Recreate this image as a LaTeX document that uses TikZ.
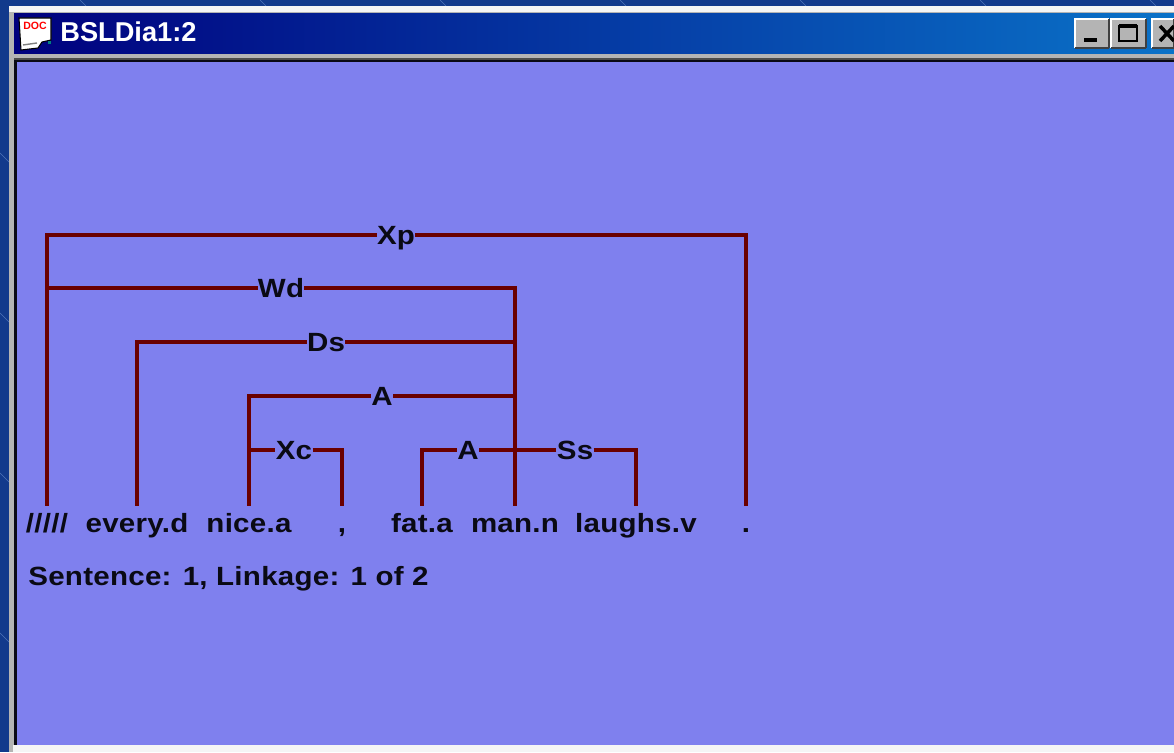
\documentclass[tikz,border=0pt]{standalone}
\usepackage{fontspec}
\setmainfont{Liberation Sans}
\newfontfamily\linkfont[FakeStretch=1.12,LetterSpace=1]{Liberation Sans}
\definecolor{DeskBlue}{HTML}{123A8C}
\definecolor{DeskLine}{HTML}{4F74B8}
\definecolor{FrameGray}{HTML}{B4B4B4}
\definecolor{PanelBlue}{HTML}{7F80EE}
\definecolor{LinkRed}{HTML}{6A0000}
\definecolor{TitleNavy}{HTML}{00007E}
\definecolor{TitleSky}{HTML}{0A72C8}
\definecolor{InkBlack}{HTML}{0A0A14}
\tikzset{
  link/.style={draw=LinkRed,line width=0.09cm},
  linklabel/.style={font=\linkfont\fontsize{15}{16}\bfseries,text=InkBlack,inner sep=0pt,text height=0.40cm,text depth=0cm},
  wordnode/.style={anchor=north,font=\linkfont\fontsize{15}{16}\bfseries,text=InkBlack,inner sep=0pt,text height=0.52cm,text depth=0.12cm},
  winbutton/.style={fill=FrameGray}
}
\begin{document}
\begin{tikzpicture}
\useasboundingbox (0,0) rectangle (23.48,15.04);
\fill[DeskBlue] (0,0) rectangle (23.48,15.04);
\foreach \y in {2.2,5.4,8.6,11.8} {\draw[DeskLine,line width=0.3pt] (0,\y+0.18)--(0.18,\y);}
\foreach \x in {1.6,5.2,8.8,12.4,16,19.6,23.0} {\draw[DeskLine,line width=0.3pt] (\x,15.04)--(\x+0.12,14.92);}
% window frame
\fill[FrameGray] (0.18,0) rectangle (23.48,14.92);
\fill[white!92!gray] (0.18,14.92) rectangle (23.48,14.80);
\fill[white!92!gray] (0.26,0) rectangle (23.48,0.14);
\shade[left color=TitleNavy,right color=TitleSky] (0.28,13.96) rectangle (23.48,14.76);
\fill[black!70] (0.28,13.88) rectangle (23.48,13.84);
\fill[InkBlack] (0.28,0.14) rectangle (0.36,13.84);
\fill[InkBlack] (0.28,13.84) rectangle (23.48,13.80);
\fill[PanelBlue] (0.34,0.14) rectangle (23.48,13.80);
% icon
\filldraw[fill=white,draw=black,line width=0.6pt] (0.38,14.68)--(1.02,14.68)--(1.02,14.24)--(0.84,14.20)--(0.76,14.08)--(0.42,14.04)--cycle;
\draw[gray,line width=0.8pt] (0.46,14.14)--(0.74,14.18);
\fill[teal] (0.96,14.16) rectangle (1.02,14.22);
\node[text=red,font=\fontsize{6}{6}\bfseries,inner sep=0pt] (icondoc) at (0.70,14.53) {DOC};
\node[anchor=base west,text=white,font=\fontsize{15.5}{16}\bfseries,inner sep=0pt] (titletext) at (1.20,14.20) {BSLDia1:2};
% buttons
\foreach \x/\w in {21.50/0.68,22.22/0.70,23.04/0.44} {
  \fill[winbutton] (\x,14.08) rectangle +(\w,0.58);
  \draw[white,line width=0.04cm] (\x,14.08) |- +(\w,0.58);
  \draw[black!75,line width=0.05cm] (\x,14.08) -- +(\w,0);
  \draw[black!75,line width=0.05cm] (\x+\w,14.08) -- +(0,0.58);
}
\fill[black] (21.68,14.20) rectangle (21.94,14.28);
\draw[black,line width=0.05cm] (22.38,14.22) rectangle (22.74,14.52);
\draw[black,line width=0.09cm] (22.38,14.52)--(22.74,14.52);
\draw[black,line width=0.07cm] (23.20,14.52)--(23.48,14.22) (23.20,14.22)--(23.48,14.52);
% words
\node[wordnode] (wslash) at (0.94,4.92) {/////};
\node[wordnode] (wevery) at (2.74,4.92) {every.d};
\node[wordnode] (wnice) at (4.98,4.92) {nice.a};
\node[wordnode] (wcomma) at (6.84,4.92) {,};
\node[wordnode] (wfat) at (8.44,4.92) {fat.a};
\node[wordnode] (wman) at (10.30,4.92) {man.n};
\node[wordnode] (wlaughs) at (12.72,4.92) {laughs.v};
\node[wordnode] (wdot) at (14.92,4.92) {.};
\node[anchor=base west,font=\linkfont\fontsize{15}{16}\bfseries,text=InkBlack,inner sep=0pt] (status) at (0.56,3.32) {Sentence: 1, Linkage: 1 of 2};
% link labels
\node[linklabel] (lXp) at (7.92,10.34) {Xp};
\node[linklabel] (lWd) at (5.62,9.28) {Wd};
\node[linklabel] (lDs) at (6.52,8.20) {Ds};
\node[linklabel] (lAa) at (7.64,7.12) {A};
\node[linklabel] (lXc) at (5.88,6.04) {Xc};
\node[linklabel] (lAb) at (9.36,6.04) {A};
\node[linklabel] (lSs) at (11.50,6.04) {Ss};
% links
\draw[link] (wslash.north) |- (lXp.west);
\draw[link] (lXp.east) -| (wdot.north);
\draw[link] (wslash.north) |- (lWd.west);
\draw[link] (lWd.east) -| (wman.north);
\draw[link] (wevery.north) |- (lDs.west);
\draw[link] (lDs.east) -| (wman.north);
\draw[link] (wnice.north) |- (lAa.west);
\draw[link] (lAa.east) -| (wman.north);
\draw[link] (wnice.north) |- (lXc.west);
\draw[link] (lXc.east) -| (wcomma.north);
\draw[link] (wfat.north) |- (lAb.west);
\draw[link] (lAb.east) -| (wman.north);
\draw[link] (lSs.west) -| (wman.north);
\draw[link] (lSs.east) -| (wlaughs.north);
\end{tikzpicture}
\end{document}
